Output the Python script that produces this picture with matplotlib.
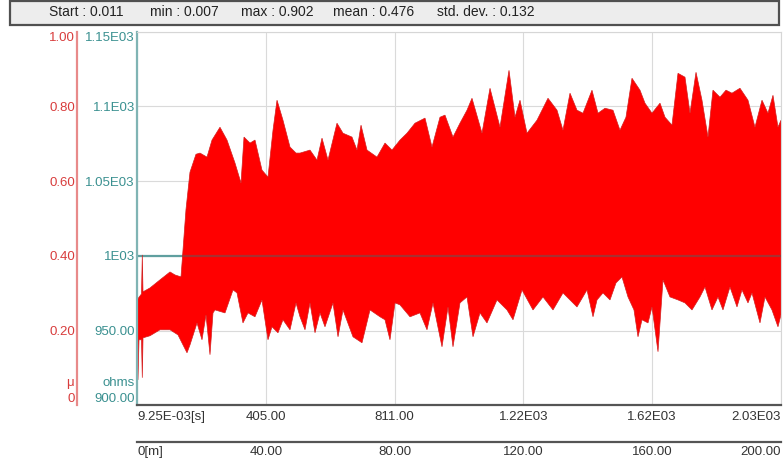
import matplotlib
matplotlib.use("Agg")
import matplotlib.pyplot as plt
from matplotlib.patches import Rectangle
import numpy as np

plt.rcParams['font.family'] = ['Liberation Sans', 'DejaVu Sans']

# Statistics shown in the header bar
stat_labels = ['Start : 0.011', 'min : 0.007', 'max : 0.902',
               'mean : 0.476', 'std. dev. : 0.132']

# Axis ranges
t_start = 0.00925
t_end = 2027.0
dist_end = 200.0
ohm_min, ohm_max = 900.0, 1150.0
mu_min, mu_max = 0.0, 1.0

# Resistance axis ticks
ohm_ticks = [900, 950, 1000, 1050, 1100, 1150]
ohm_tick_labels = ['900.00', '950.00', '1E03', '1.05E03', '1.1E03', '1.15E03']

# Friction coefficient axis ticks
mu_ticks = [0.0, 0.2, 0.4, 0.6, 0.8, 1.0]
mu_tick_labels = ['0', '0.20', '0.40', '0.60', '0.80', '1.00']

# Time axis ticks
time_ticks = [t_start, 405.4, 810.8, 1216.2, 1621.6, t_end]
time_tick_labels = ['9.25E-03[s]', '405.00', '811.00', '1.22E03', '1.62E03', '2.03E03']

# Sliding distance axis ticks
dist_ticks = [0, 40, 80, 120, 160, 200]
dist_tick_labels = ['0[m]', '40.00', '80.00', '120.00', '160.00', '200.00']

# Upper envelope of the contact resistance signal (time [s], ohms)
upper_t = [0.00925, 14.2, 16.7, 18.9, 40.9, 72.4, 103.9, 119.6, 138.5, 144.8,
           154.2, 166.8, 185.7, 198.3, 220.3, 236.1, 261.2, 283.3, 308.5, 327.4, 336.8,
           355.7, 371.4, 393.4, 412.3, 428.1, 440.7, 459.5, 481.6, 500.5, 513.1,
           544.5, 566.6, 582.3, 601.2, 629.5, 648.4, 676.7, 692.5, 705.1, 724.0,
           755.4, 780.6, 802.6, 827.8, 849.8, 875.0, 906.5, 928.5, 953.7, 969.4,
           994.6, 1016.6, 1038.7, 1054.4, 1085.9, 1111.1, 1142.6, 1170.9, 1189.8, 1205.5,
           1227.5, 1259.0, 1293.6, 1322.0, 1340.8, 1362.9, 1384.9, 1403.8, 1432.1, 1451.0,
           1473.0, 1498.2, 1520.2, 1539.1, 1558.0, 1583.2, 1598.9, 1621.0, 1646.2, 1661.9,
           1683.9, 1702.8, 1724.8, 1740.6, 1759.5, 1778.3, 1797.2, 1812.9, 1835.0, 1853.9,
           1872.7, 1897.9, 1923.1, 1945.1, 1967.2, 1986.0, 2001.8, 2017.5, 2027.0]
upper_ohm = [970.5, 974.5, 1000.6, 975.9, 978.5, 983.9, 989.2, 987.2, 985.9, 1003.9,
             1031.0, 1056.0, 1068.0, 1068.8, 1066.1, 1077.5, 1086.1, 1077.5, 1062.1, 1048.7, 1079.5,
             1075.5, 1077.5, 1057.4, 1052.7, 1084.1, 1104.2, 1090.8, 1072.8, 1068.8, 1068.8,
             1070.8, 1064.1, 1078.8, 1064.1, 1088.8, 1082.1, 1079.5, 1070.8, 1087.5, 1070.8,
             1066.1, 1075.5, 1070.8, 1077.5, 1082.1, 1088.8, 1092.2, 1072.8, 1092.8, 1094.2,
             1079.5, 1088.8, 1097.5, 1105.5, 1082.1, 1112.2, 1086.1, 1124.2, 1092.8, 1104.2,
             1082.1, 1090.8, 1105.5, 1097.5, 1084.1, 1108.9, 1097.5, 1095.5, 1110.9, 1095.5,
             1098.8, 1097.5, 1084.1, 1092.8, 1118.9, 1110.9, 1102.2, 1095.5, 1102.2, 1092.8,
             1087.5, 1122.2, 1119.6, 1095.5, 1122.9, 1104.2, 1079.5, 1110.9, 1106.2, 1110.9,
             1108.9, 1112.2, 1104.2, 1086.1, 1104.2, 1095.5, 1107.5, 1086.1, 1090.8]

# Lower envelope of the contact resistance signal (time [s], ohms)
lower_t = [0.00925, 3.1, 6.3, 14.2, 16.7, 18.9, 40.9, 72.4, 103.9, 129.0,
           144.8, 157.4, 166.8, 188.9, 204.6, 217.2, 229.8, 239.2, 245.5, 277.0,
           302.2, 314.8, 333.6, 349.4, 371.4, 393.4, 412.3, 424.9, 443.8, 459.5,
           481.6, 500.5, 513.1, 528.8, 544.5, 560.3, 576.0, 591.7, 616.9, 632.7,
           648.4, 679.9, 708.2, 733.4, 764.9, 780.6, 796.3, 812.1, 827.8, 859.3,
           890.7, 912.8, 931.7, 960.0, 978.9, 994.6, 1016.6, 1038.7, 1057.6, 1079.6,
           1101.6, 1133.1, 1164.6, 1183.5, 1211.8, 1246.4, 1277.9, 1309.4, 1340.8, 1384.9,
           1416.4, 1435.3, 1447.9, 1466.7, 1488.8, 1507.7, 1526.5, 1545.4, 1564.3, 1576.9,
           1589.5, 1608.4, 1621.0, 1639.9, 1655.6, 1677.6, 1702.8, 1724.8, 1746.9, 1772.0,
           1787.8, 1809.8, 1828.7, 1844.4, 1866.4, 1888.5, 1904.2, 1923.1, 1935.7, 1960.9,
           1976.6, 1998.6, 2017.5, 2027.0]
lower_ohm = [940.4, 917.0, 943.8, 943.8, 918.4, 945.1, 946.5, 950.5, 950.5, 947.1,
             940.4, 935.1, 940.4, 955.1, 943.8, 960.5, 933.8, 961.8, 963.8, 961.8,
             977.2, 975.2, 955.1, 961.8, 959.2, 970.5, 943.8, 952.5, 948.5, 957.2,
             950.5, 968.5, 959.2, 950.5, 968.5, 948.5, 961.8, 952.5, 968.5, 945.8,
             963.8, 945.8, 941.8, 963.8, 959.2, 957.2, 943.8, 968.5, 967.2, 959.2,
             961.8, 950.5, 968.5, 939.1, 965.8, 939.1, 968.5, 972.5, 945.8, 961.8,
             955.1, 970.5, 963.8, 957.2, 977.2, 963.8, 972.5, 963.8, 975.2, 965.8,
             977.2, 959.2, 970.5, 975.2, 970.5, 981.9, 985.9, 972.5, 963.8, 945.8,
             957.2, 955.1, 965.8, 935.8, 983.9, 972.5, 970.5, 968.5, 963.8, 972.5,
             979.2, 963.8, 972.5, 963.8, 979.2, 965.8, 977.2, 968.5, 975.2, 955.1,
             972.5, 963.8, 952.5, 960.5]

W, H = 784, 468
fig = plt.figure(figsize=(W / 100, H / 100), dpi=100)

# Header bar with statistics
fig.patches.append(Rectangle((10 / W, 1 - 25 / H), 769 / W, 24 / H,
                             transform=fig.transFigure, facecolor='#ededed',
                             edgecolor='#505050', linewidth=1.6))
for x_px, s in zip([49, 150, 241, 333, 437], stat_labels):
    fig.text(x_px / W, 1 - 12.5 / H, s, ha='left', va='center',
             fontsize=10, color='#222222')

rect = [137 / W, 1 - 405.2 / H, 644 / W, 373.4 / H]
ax = fig.add_axes(rect)
ax.set_xlim(0, t_end)
ax.set_ylim(ohm_min, ohm_max)
ax.set_axisbelow(True)

teal = '#3a9090'
red_lbl = '#d83c3c'

# Signal band
poly = ax.fill(np.r_[upper_t, lower_t[::-1]], np.r_[upper_ohm, lower_ohm[::-1]],
               facecolor='#ff0000', edgecolor='#d42020', linewidth=0.5, zorder=2)[0]

# Reference line at 1 kOhm: teal on background, darker where it crosses the signal
ax.axhline(1000, color='#5f9f9f', linewidth=1.6, zorder=1.5)
dark = ax.axhline(1000, color='#a83030', linewidth=1.6, zorder=3)
dark.set_clip_path(poly)

# Grid
ax.set_yticks(ohm_ticks, labels=ohm_tick_labels)
ax.set_xticks(time_ticks, labels=time_tick_labels)
ax.grid(True, color='#dadada', linewidth=0.8)

ax.tick_params(axis='y', length=0, pad=1.5, labelsize=9.5, labelcolor=teal)
ax.tick_params(axis='x', length=0, pad=4, labelsize=9.5, labelcolor='#333333')
ylabels = ax.get_yticklabels()
ylabels[0].set_va('bottom')
ylabels[-1].set_va('top')
xlabels = ax.get_xticklabels()
xlabels[0].set_ha('left')
xlabels[-1].set_ha('right')

for side in ['top', 'right']:
    ax.spines[side].set_color('#d6d6d6')
    ax.spines[side].set_linewidth(0.8)
ax.spines['left'].set_color('#80b4b4')
ax.spines['left'].set_linewidth(1.6)
ax.spines['bottom'].set_color('#555555')
ax.spines['bottom'].set_linewidth(1.6)

# Sliding distance axis below the time axis
sec = ax.secondary_xaxis(-37 / 373.4,
                         functions=(lambda t: t * dist_end / t_end,
                                    lambda m: m * t_end / dist_end))
sec.set_xticks(dist_ticks, labels=dist_tick_labels)
sec.tick_params(axis='x', length=0, pad=3, labelsize=9.5, labelcolor='#333333')
sec.spines['bottom'].set_color('#555555')
sec.spines['bottom'].set_linewidth(1.6)
slabels = sec.get_xticklabels()
slabels[0].set_ha('left')
slabels[-1].set_ha('right')

# Friction coefficient axis on the far left
ax_r = fig.add_axes(rect)
ax_r.patch.set_visible(False)
ax_r.set_ylim(mu_min, mu_max)
ax_r.set_xticks([])
for side in ['top', 'right', 'bottom']:
    ax_r.spines[side].set_visible(False)
ax_r.spines['left'].set_position(('axes', -60 / 644))
ax_r.spines['left'].set_color('#e88a8a')
ax_r.spines['left'].set_linewidth(1.6)
ax_r.set_yticks(mu_ticks, labels=mu_tick_labels)
ax_r.tick_params(axis='y', length=0, pad=1.5, labelsize=9.5, labelcolor=red_lbl)
rlabels = ax_r.get_yticklabels()
rlabels[0].set_va('bottom')
rlabels[-1].set_va('top')

# Unit labels
fig.text(135 / W, 1 - 383 / H, 'ohms', ha='right', va='center',
         fontsize=9.5, color=teal)
fig.text(74 / W, 1 - 383 / H, 'μ', ha='right', va='center',
         fontsize=9.5, color=red_lbl)

fig.savefig('out.png', dpi=100)
